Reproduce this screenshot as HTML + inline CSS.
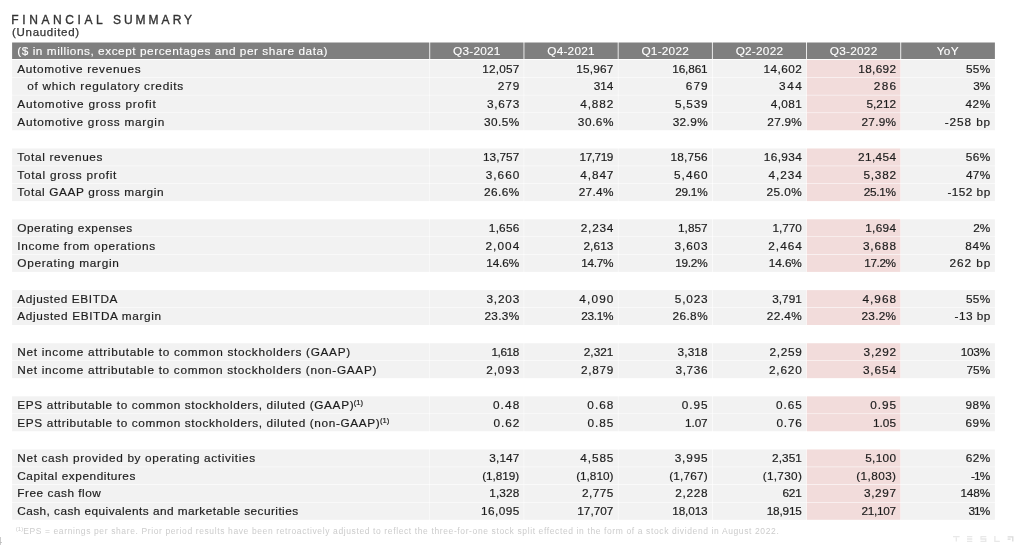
<!DOCTYPE html>
<html><head><meta charset="utf-8"><title>Financial Summary</title>
<style>
html,body{margin:0;padding:0;background:#fff;}
body{width:1024px;height:548px;position:relative;overflow:hidden;font-family:"Liberation Sans",sans-serif;color:#1c1c1c;font-size:11.8px;}
#w{position:absolute;left:0;top:0;width:1024px;height:548px;will-change:transform;}
#bg{position:absolute;left:0;top:0;}
.t{position:absolute;left:11.3px;top:13px;font-size:12px;letter-spacing:3.38px;white-space:nowrap;color:#333333;line-height:14px;-webkit-text-stroke:0.35px #333333;}
.u{position:absolute;left:12px;top:25px;font-size:11.5px;letter-spacing:0.7px;white-space:nowrap;color:#333333;line-height:14px;-webkit-text-stroke:0.25px #333333;}
.r{position:absolute;left:0;width:1024px;}
.c{position:absolute;top:0;height:100%;box-sizing:border-box;white-space:nowrap;}
.l{padding-left:5.2px;letter-spacing:0.66px;}
.i{padding-left:15.2px;}
.n{text-align:right;padding-right:4.7px;letter-spacing:0px;}
.b{letter-spacing:0.45px;}
.d{-webkit-text-stroke:0.18px #1c1c1c;}
.h{color:#fff;-webkit-text-stroke:0.12px #fff;}
.h .n{text-align:center;padding-right:0;letter-spacing:0.24px;}
.h .l{letter-spacing:0.55px;}
sup{font-size:7.6px;line-height:0;vertical-align:baseline;position:relative;top:-3.8px;letter-spacing:0;margin-left:-0.4px;}
.f{position:absolute;left:16.2px;top:525.5px;font-size:8.5px;letter-spacing:0.615px;color:#cccccc;white-space:nowrap;line-height:10px;}
.f sup{font-size:6px;top:-2.5px;}
.pg{position:absolute;left:-4px;top:535px;font-size:11px;color:#bdbdbd;line-height:12px;}
.logo{position:absolute;left:952.7px;top:536.3px;}
</style></head><body><div id="w">
<svg id="bg" width="1024" height="548" viewBox="0 0 1024 548">
<rect x="12.10" y="42.50" width="417.22" height="16.50" fill="#7f7f7f"/>
<rect x="430.18" y="42.50" width="93.35" height="16.50" fill="#7f7f7f"/>
<rect x="524.38" y="42.50" width="93.35" height="16.50" fill="#7f7f7f"/>
<rect x="618.57" y="42.50" width="93.35" height="16.50" fill="#7f7f7f"/>
<rect x="712.77" y="42.50" width="93.35" height="16.50" fill="#7f7f7f"/>
<rect x="806.97" y="42.50" width="93.35" height="16.50" fill="#7f7f7f"/>
<rect x="901.17" y="42.50" width="93.73" height="16.50" fill="#7f7f7f"/>
<rect x="12.10" y="59.95" width="417.40" height="17.20" fill="#f2f2f2"/>
<rect x="430.00" y="59.95" width="93.70" height="17.20" fill="#f2f2f2"/>
<rect x="524.20" y="59.95" width="93.70" height="17.20" fill="#f2f2f2"/>
<rect x="618.40" y="59.95" width="93.70" height="17.20" fill="#f2f2f2"/>
<rect x="712.60" y="59.95" width="93.70" height="17.20" fill="#f2f2f2"/>
<rect x="806.80" y="59.95" width="93.70" height="17.20" fill="#f2dcdb"/>
<rect x="901.00" y="59.95" width="93.90" height="17.20" fill="#f2f2f2"/>
<rect x="12.10" y="77.66" width="417.40" height="17.20" fill="#f2f2f2"/>
<rect x="430.00" y="77.66" width="93.70" height="17.20" fill="#f2f2f2"/>
<rect x="524.20" y="77.66" width="93.70" height="17.20" fill="#f2f2f2"/>
<rect x="618.40" y="77.66" width="93.70" height="17.20" fill="#f2f2f2"/>
<rect x="712.60" y="77.66" width="93.70" height="17.20" fill="#f2f2f2"/>
<rect x="806.80" y="77.66" width="93.70" height="17.20" fill="#f2dcdb"/>
<rect x="901.00" y="77.66" width="93.90" height="17.20" fill="#f2f2f2"/>
<rect x="12.10" y="95.36" width="417.40" height="17.20" fill="#f2f2f2"/>
<rect x="430.00" y="95.36" width="93.70" height="17.20" fill="#f2f2f2"/>
<rect x="524.20" y="95.36" width="93.70" height="17.20" fill="#f2f2f2"/>
<rect x="618.40" y="95.36" width="93.70" height="17.20" fill="#f2f2f2"/>
<rect x="712.60" y="95.36" width="93.70" height="17.20" fill="#f2f2f2"/>
<rect x="806.80" y="95.36" width="93.70" height="17.20" fill="#f2dcdb"/>
<rect x="901.00" y="95.36" width="93.90" height="17.20" fill="#f2f2f2"/>
<rect x="12.10" y="113.07" width="417.40" height="17.20" fill="#f2f2f2"/>
<rect x="430.00" y="113.07" width="93.70" height="17.20" fill="#f2f2f2"/>
<rect x="524.20" y="113.07" width="93.70" height="17.20" fill="#f2f2f2"/>
<rect x="618.40" y="113.07" width="93.70" height="17.20" fill="#f2f2f2"/>
<rect x="712.60" y="113.07" width="93.70" height="17.20" fill="#f2f2f2"/>
<rect x="806.80" y="113.07" width="93.70" height="17.20" fill="#f2dcdb"/>
<rect x="901.00" y="113.07" width="93.90" height="17.20" fill="#f2f2f2"/>
<rect x="12.10" y="148.48" width="417.40" height="17.21" fill="#f2f2f2"/>
<rect x="430.00" y="148.48" width="93.70" height="17.21" fill="#f2f2f2"/>
<rect x="524.20" y="148.48" width="93.70" height="17.21" fill="#f2f2f2"/>
<rect x="618.40" y="148.48" width="93.70" height="17.21" fill="#f2f2f2"/>
<rect x="712.60" y="148.48" width="93.70" height="17.21" fill="#f2f2f2"/>
<rect x="806.80" y="148.48" width="93.70" height="17.21" fill="#f2dcdb"/>
<rect x="901.00" y="148.48" width="93.90" height="17.21" fill="#f2f2f2"/>
<rect x="12.10" y="166.19" width="417.40" height="17.20" fill="#f2f2f2"/>
<rect x="430.00" y="166.19" width="93.70" height="17.20" fill="#f2f2f2"/>
<rect x="524.20" y="166.19" width="93.70" height="17.20" fill="#f2f2f2"/>
<rect x="618.40" y="166.19" width="93.70" height="17.20" fill="#f2f2f2"/>
<rect x="712.60" y="166.19" width="93.70" height="17.20" fill="#f2f2f2"/>
<rect x="806.80" y="166.19" width="93.70" height="17.20" fill="#f2dcdb"/>
<rect x="901.00" y="166.19" width="93.90" height="17.20" fill="#f2f2f2"/>
<rect x="12.10" y="183.89" width="417.40" height="17.20" fill="#f2f2f2"/>
<rect x="430.00" y="183.89" width="93.70" height="17.20" fill="#f2f2f2"/>
<rect x="524.20" y="183.89" width="93.70" height="17.20" fill="#f2f2f2"/>
<rect x="618.40" y="183.89" width="93.70" height="17.20" fill="#f2f2f2"/>
<rect x="712.60" y="183.89" width="93.70" height="17.20" fill="#f2f2f2"/>
<rect x="806.80" y="183.89" width="93.70" height="17.20" fill="#f2dcdb"/>
<rect x="901.00" y="183.89" width="93.90" height="17.20" fill="#f2f2f2"/>
<rect x="12.10" y="219.30" width="417.40" height="17.21" fill="#f2f2f2"/>
<rect x="430.00" y="219.30" width="93.70" height="17.21" fill="#f2f2f2"/>
<rect x="524.20" y="219.30" width="93.70" height="17.21" fill="#f2f2f2"/>
<rect x="618.40" y="219.30" width="93.70" height="17.21" fill="#f2f2f2"/>
<rect x="712.60" y="219.30" width="93.70" height="17.21" fill="#f2f2f2"/>
<rect x="806.80" y="219.30" width="93.70" height="17.21" fill="#f2dcdb"/>
<rect x="901.00" y="219.30" width="93.90" height="17.21" fill="#f2f2f2"/>
<rect x="12.10" y="237.00" width="417.40" height="17.20" fill="#f2f2f2"/>
<rect x="430.00" y="237.00" width="93.70" height="17.20" fill="#f2f2f2"/>
<rect x="524.20" y="237.00" width="93.70" height="17.20" fill="#f2f2f2"/>
<rect x="618.40" y="237.00" width="93.70" height="17.20" fill="#f2f2f2"/>
<rect x="712.60" y="237.00" width="93.70" height="17.20" fill="#f2f2f2"/>
<rect x="806.80" y="237.00" width="93.70" height="17.20" fill="#f2dcdb"/>
<rect x="901.00" y="237.00" width="93.90" height="17.20" fill="#f2f2f2"/>
<rect x="12.10" y="254.71" width="417.40" height="17.20" fill="#f2f2f2"/>
<rect x="430.00" y="254.71" width="93.70" height="17.20" fill="#f2f2f2"/>
<rect x="524.20" y="254.71" width="93.70" height="17.20" fill="#f2f2f2"/>
<rect x="618.40" y="254.71" width="93.70" height="17.20" fill="#f2f2f2"/>
<rect x="712.60" y="254.71" width="93.70" height="17.20" fill="#f2f2f2"/>
<rect x="806.80" y="254.71" width="93.70" height="17.20" fill="#f2dcdb"/>
<rect x="901.00" y="254.71" width="93.90" height="17.20" fill="#f2f2f2"/>
<rect x="12.10" y="290.12" width="417.40" height="17.20" fill="#f2f2f2"/>
<rect x="430.00" y="290.12" width="93.70" height="17.20" fill="#f2f2f2"/>
<rect x="524.20" y="290.12" width="93.70" height="17.20" fill="#f2f2f2"/>
<rect x="618.40" y="290.12" width="93.70" height="17.20" fill="#f2f2f2"/>
<rect x="712.60" y="290.12" width="93.70" height="17.20" fill="#f2f2f2"/>
<rect x="806.80" y="290.12" width="93.70" height="17.20" fill="#f2dcdb"/>
<rect x="901.00" y="290.12" width="93.90" height="17.20" fill="#f2f2f2"/>
<rect x="12.10" y="307.82" width="417.40" height="17.20" fill="#f2f2f2"/>
<rect x="430.00" y="307.82" width="93.70" height="17.20" fill="#f2f2f2"/>
<rect x="524.20" y="307.82" width="93.70" height="17.20" fill="#f2f2f2"/>
<rect x="618.40" y="307.82" width="93.70" height="17.20" fill="#f2f2f2"/>
<rect x="712.60" y="307.82" width="93.70" height="17.20" fill="#f2f2f2"/>
<rect x="806.80" y="307.82" width="93.70" height="17.20" fill="#f2dcdb"/>
<rect x="901.00" y="307.82" width="93.90" height="17.20" fill="#f2f2f2"/>
<rect x="12.10" y="343.23" width="417.40" height="17.20" fill="#f2f2f2"/>
<rect x="430.00" y="343.23" width="93.70" height="17.20" fill="#f2f2f2"/>
<rect x="524.20" y="343.23" width="93.70" height="17.20" fill="#f2f2f2"/>
<rect x="618.40" y="343.23" width="93.70" height="17.20" fill="#f2f2f2"/>
<rect x="712.60" y="343.23" width="93.70" height="17.20" fill="#f2f2f2"/>
<rect x="806.80" y="343.23" width="93.70" height="17.20" fill="#f2dcdb"/>
<rect x="901.00" y="343.23" width="93.90" height="17.20" fill="#f2f2f2"/>
<rect x="12.10" y="360.94" width="417.40" height="17.21" fill="#f2f2f2"/>
<rect x="430.00" y="360.94" width="93.70" height="17.21" fill="#f2f2f2"/>
<rect x="524.20" y="360.94" width="93.70" height="17.21" fill="#f2f2f2"/>
<rect x="618.40" y="360.94" width="93.70" height="17.21" fill="#f2f2f2"/>
<rect x="712.60" y="360.94" width="93.70" height="17.21" fill="#f2f2f2"/>
<rect x="806.80" y="360.94" width="93.70" height="17.21" fill="#f2dcdb"/>
<rect x="901.00" y="360.94" width="93.90" height="17.21" fill="#f2f2f2"/>
<rect x="12.10" y="396.35" width="417.40" height="17.20" fill="#f2f2f2"/>
<rect x="430.00" y="396.35" width="93.70" height="17.20" fill="#f2f2f2"/>
<rect x="524.20" y="396.35" width="93.70" height="17.20" fill="#f2f2f2"/>
<rect x="618.40" y="396.35" width="93.70" height="17.20" fill="#f2f2f2"/>
<rect x="712.60" y="396.35" width="93.70" height="17.20" fill="#f2f2f2"/>
<rect x="806.80" y="396.35" width="93.70" height="17.20" fill="#f2dcdb"/>
<rect x="901.00" y="396.35" width="93.90" height="17.20" fill="#f2f2f2"/>
<rect x="12.10" y="414.05" width="417.40" height="17.21" fill="#f2f2f2"/>
<rect x="430.00" y="414.05" width="93.70" height="17.21" fill="#f2f2f2"/>
<rect x="524.20" y="414.05" width="93.70" height="17.21" fill="#f2f2f2"/>
<rect x="618.40" y="414.05" width="93.70" height="17.21" fill="#f2f2f2"/>
<rect x="712.60" y="414.05" width="93.70" height="17.21" fill="#f2f2f2"/>
<rect x="806.80" y="414.05" width="93.70" height="17.21" fill="#f2dcdb"/>
<rect x="901.00" y="414.05" width="93.90" height="17.21" fill="#f2f2f2"/>
<rect x="12.10" y="449.46" width="417.40" height="17.20" fill="#f2f2f2"/>
<rect x="430.00" y="449.46" width="93.70" height="17.20" fill="#f2f2f2"/>
<rect x="524.20" y="449.46" width="93.70" height="17.20" fill="#f2f2f2"/>
<rect x="618.40" y="449.46" width="93.70" height="17.20" fill="#f2f2f2"/>
<rect x="712.60" y="449.46" width="93.70" height="17.20" fill="#f2f2f2"/>
<rect x="806.80" y="449.46" width="93.70" height="17.20" fill="#f2dcdb"/>
<rect x="901.00" y="449.46" width="93.90" height="17.20" fill="#f2f2f2"/>
<rect x="12.10" y="467.17" width="417.40" height="17.20" fill="#f2f2f2"/>
<rect x="430.00" y="467.17" width="93.70" height="17.20" fill="#f2f2f2"/>
<rect x="524.20" y="467.17" width="93.70" height="17.20" fill="#f2f2f2"/>
<rect x="618.40" y="467.17" width="93.70" height="17.20" fill="#f2f2f2"/>
<rect x="712.60" y="467.17" width="93.70" height="17.20" fill="#f2f2f2"/>
<rect x="806.80" y="467.17" width="93.70" height="17.20" fill="#f2dcdb"/>
<rect x="901.00" y="467.17" width="93.90" height="17.20" fill="#f2f2f2"/>
<rect x="12.10" y="484.87" width="417.40" height="17.20" fill="#f2f2f2"/>
<rect x="430.00" y="484.87" width="93.70" height="17.20" fill="#f2f2f2"/>
<rect x="524.20" y="484.87" width="93.70" height="17.20" fill="#f2f2f2"/>
<rect x="618.40" y="484.87" width="93.70" height="17.20" fill="#f2f2f2"/>
<rect x="712.60" y="484.87" width="93.70" height="17.20" fill="#f2f2f2"/>
<rect x="806.80" y="484.87" width="93.70" height="17.20" fill="#f2dcdb"/>
<rect x="901.00" y="484.87" width="93.90" height="17.20" fill="#f2f2f2"/>
<rect x="12.10" y="502.58" width="417.40" height="17.21" fill="#f2f2f2"/>
<rect x="430.00" y="502.58" width="93.70" height="17.21" fill="#f2f2f2"/>
<rect x="524.20" y="502.58" width="93.70" height="17.21" fill="#f2f2f2"/>
<rect x="618.40" y="502.58" width="93.70" height="17.21" fill="#f2f2f2"/>
<rect x="712.60" y="502.58" width="93.70" height="17.21" fill="#f2f2f2"/>
<rect x="806.80" y="502.58" width="93.70" height="17.21" fill="#f2dcdb"/>
<rect x="901.00" y="502.58" width="93.90" height="17.21" fill="#f2f2f2"/>
</svg>
<div class="t"><span style="letter-spacing:3.6px">FINANCIAL </span><span style="letter-spacing:3.02px">SUMMARY</span></div>
<div class="u">(Unaudited)</div>
<div class="r h" style="top:42.60px;height:17.70px;line-height:17.70px"><div class="c l" style="left:12.10px;width:417.65px;letter-spacing:0.545px">($ in millions, except percentages and per share data)</div><div class="c n" style="left:429.75px;width:94.20px">Q3-2021</div><div class="c n" style="left:523.95px;width:94.20px">Q4-2021</div><div class="c n" style="left:618.15px;width:94.20px">Q1-2022</div><div class="c n" style="left:712.35px;width:94.20px">Q2-2022</div><div class="c n" style="left:806.55px;width:94.20px">Q3-2022</div><div class="c n" style="left:900.75px;width:94.15px">YoY</div></div>
<div class="r d" style="top:60.55px;height:17.70px;line-height:17.70px"><div class="c l" style="left:12.10px;width:417.65px;letter-spacing:0.693px">Automotive revenues</div><div class="c n" style="left:429.75px;width:94.20px;letter-spacing:0.195px;padding-right:4.505px">12,057</div><div class="c n" style="left:523.95px;width:94.20px;letter-spacing:0.219px;padding-right:4.481px">15,967</div><div class="c n" style="left:618.15px;width:94.20px;letter-spacing:-0.146px;padding-right:4.846px">16,861</div><div class="c n" style="left:712.35px;width:94.20px;letter-spacing:0.438px;padding-right:4.262px">14,602</div><div class="c n" style="left:806.55px;width:94.20px;letter-spacing:0.340px;padding-right:4.360px">18,692</div><div class="c n" style="left:900.75px;width:94.15px;letter-spacing:0.344px;padding-right:4.356px">55%</div></div>
<div class="r d" style="top:78.26px;height:17.70px;line-height:17.70px"><div class="c l i" style="left:12.10px;width:417.65px;letter-spacing:0.725px">of which regulatory credits</div><div class="c n" style="left:429.75px;width:94.20px;letter-spacing:0.912px;padding-right:3.788px">279</div><div class="c n" style="left:523.95px;width:94.20px;letter-spacing:0.061px;padding-right:4.639px">314</div><div class="c n" style="left:618.15px;width:94.20px;letter-spacing:1.094px;padding-right:3.606px">679</div><div class="c n" style="left:712.35px;width:94.20px;letter-spacing:1.580px;padding-right:3.120px">344</div><div class="c n" style="left:806.55px;width:94.20px;letter-spacing:1.276px;padding-right:3.424px">286</div><div class="c n" style="left:900.75px;width:94.15px;letter-spacing:-0.041px;padding-right:4.741px">3%</div></div>
<div class="r d" style="top:95.96px;height:17.70px;line-height:17.70px"><div class="c l" style="left:12.10px;width:417.65px;letter-spacing:0.811px">Automotive gross profit</div><div class="c n" style="left:429.75px;width:94.20px;letter-spacing:0.668px;padding-right:4.032px">3,673</div><div class="c n" style="left:523.95px;width:94.20px;letter-spacing:0.942px;padding-right:3.758px">4,882</div><div class="c n" style="left:618.15px;width:94.20px;letter-spacing:0.790px;padding-right:3.910px">5,539</div><div class="c n" style="left:712.35px;width:94.20px;letter-spacing:0.395px;padding-right:4.305px">4,081</div><div class="c n" style="left:806.55px;width:94.20px;letter-spacing:0.031px;padding-right:4.669px">5,212</div><div class="c n" style="left:900.75px;width:94.15px;letter-spacing:0.526px;padding-right:4.174px">42%</div></div>
<div class="r d" style="top:113.67px;height:17.70px;line-height:17.70px"><div class="c l" style="left:12.10px;width:417.65px;letter-spacing:0.751px">Automotive gross margin</div><div class="c n" style="left:429.75px;width:94.20px;letter-spacing:0.476px;padding-right:4.224px">30.5%</div><div class="c n" style="left:523.95px;width:94.20px;letter-spacing:0.537px;padding-right:4.163px">30.6%</div><div class="c n" style="left:618.15px;width:94.20px;letter-spacing:0.385px;padding-right:4.315px">32.9%</div><div class="c n" style="left:712.35px;width:94.20px;letter-spacing:0.263px;padding-right:4.437px">27.9%</div><div class="c n" style="left:806.55px;width:94.20px;letter-spacing:0.263px;padding-right:4.437px">27.9%</div><div class="c n" style="left:900.75px;width:94.15px;letter-spacing:0.925px;padding-right:3.775px">-258 bp</div></div>
<div class="r d" style="top:149.08px;height:17.70px;line-height:17.70px"><div class="c l" style="left:12.10px;width:417.65px;letter-spacing:0.651px">Total revenues</div><div class="c n" style="left:429.75px;width:94.20px;letter-spacing:0.025px;padding-right:4.675px">13,757</div><div class="c n" style="left:523.95px;width:94.20px;letter-spacing:-0.437px;padding-right:5.137px">17,719</div><div class="c n" style="left:618.15px;width:94.20px;letter-spacing:0.219px;padding-right:4.481px">18,756</div><div class="c n" style="left:712.35px;width:94.20px;letter-spacing:0.413px;padding-right:4.287px">16,934</div><div class="c n" style="left:806.55px;width:94.20px;letter-spacing:0.389px;padding-right:4.311px">21,454</div><div class="c n" style="left:900.75px;width:94.15px;letter-spacing:0.466px;padding-right:4.234px">56%</div></div>
<div class="r d" style="top:166.78px;height:17.70px;line-height:17.70px"><div class="c l" style="left:12.10px;width:417.65px;letter-spacing:0.738px">Total gross profit</div><div class="c n" style="left:429.75px;width:94.20px;letter-spacing:0.972px;padding-right:3.728px">3,660</div><div class="c n" style="left:523.95px;width:94.20px;letter-spacing:0.911px;padding-right:3.789px">4,847</div><div class="c n" style="left:618.15px;width:94.20px;letter-spacing:1.033px;padding-right:3.667px">5,460</div><div class="c n" style="left:712.35px;width:94.20px;letter-spacing:0.942px;padding-right:3.758px">4,234</div><div class="c n" style="left:806.55px;width:94.20px;letter-spacing:0.760px;padding-right:3.940px">5,382</div><div class="c n" style="left:900.75px;width:94.15px;letter-spacing:0.344px;padding-right:4.356px">47%</div></div>
<div class="r d" style="top:184.49px;height:17.70px;line-height:17.70px"><div class="c l" style="left:12.10px;width:417.65px;letter-spacing:0.635px">Total GAAP gross margin</div><div class="c n" style="left:429.75px;width:94.20px;letter-spacing:0.445px;padding-right:4.255px">26.6%</div><div class="c n" style="left:523.95px;width:94.20px;letter-spacing:0.324px;padding-right:4.376px">27.4%</div><div class="c n" style="left:618.15px;width:94.20px;letter-spacing:-0.253px;padding-right:4.953px">29.1%</div><div class="c n" style="left:712.35px;width:94.20px;letter-spacing:0.445px;padding-right:4.255px">25.0%</div><div class="c n" style="left:806.55px;width:94.20px;letter-spacing:-0.314px;padding-right:5.014px">25.1%</div><div class="c n" style="left:900.75px;width:94.15px;letter-spacing:0.459px;padding-right:4.241px">-152 bp</div></div>
<div class="r d" style="top:219.90px;height:17.70px;line-height:17.70px"><div class="c l" style="left:12.10px;width:417.65px;letter-spacing:0.542px">Operating expenses</div><div class="c n" style="left:429.75px;width:94.20px;letter-spacing:0.213px;padding-right:4.487px">1,656</div><div class="c n" style="left:523.95px;width:94.20px;letter-spacing:0.790px;padding-right:3.910px">2,234</div><div class="c n" style="left:618.15px;width:94.20px;letter-spacing:0.031px;padding-right:4.669px">1,857</div><div class="c n" style="left:712.35px;width:94.20px;letter-spacing:-0.030px;padding-right:4.730px">1,770</div><div class="c n" style="left:806.55px;width:94.20px;letter-spacing:0.334px;padding-right:4.366px">1,694</div><div class="c n" style="left:900.75px;width:94.15px;letter-spacing:-0.162px;padding-right:4.862px">2%</div></div>
<div class="r d" style="top:237.60px;height:17.70px;line-height:17.70px"><div class="c l" style="left:12.10px;width:417.65px;letter-spacing:0.660px">Income from operations</div><div class="c n" style="left:429.75px;width:94.20px;letter-spacing:1.063px;padding-right:3.637px">2,004</div><div class="c n" style="left:523.95px;width:94.20px;letter-spacing:0.122px;padding-right:4.578px">2,613</div><div class="c n" style="left:618.15px;width:94.20px;letter-spacing:0.911px;padding-right:3.789px">3,603</div><div class="c n" style="left:712.35px;width:94.20px;letter-spacing:1.003px;padding-right:3.697px">2,464</div><div class="c n" style="left:806.55px;width:94.20px;letter-spacing:0.911px;padding-right:3.789px">3,688</div><div class="c n" style="left:900.75px;width:94.15px;letter-spacing:0.709px;padding-right:3.991px">84%</div></div>
<div class="r d" style="top:255.31px;height:17.70px;line-height:17.70px"><div class="c l" style="left:12.10px;width:417.65px;letter-spacing:0.690px">Operating margin</div><div class="c n" style="left:429.75px;width:94.20px;letter-spacing:-0.101px;padding-right:4.801px">14.6%</div><div class="c n" style="left:523.95px;width:94.20px;letter-spacing:-0.284px;padding-right:4.984px">14.7%</div><div class="c n" style="left:618.15px;width:94.20px;letter-spacing:-0.253px;padding-right:4.953px">19.2%</div><div class="c n" style="left:712.35px;width:94.20px;letter-spacing:-0.101px;padding-right:4.801px">14.6%</div><div class="c n" style="left:806.55px;width:94.20px;letter-spacing:-0.435px;padding-right:5.135px">17.2%</div><div class="c n" style="left:900.75px;width:94.15px;letter-spacing:0.899px;padding-right:3.801px">262 bp</div></div>
<div class="r d" style="top:290.72px;height:17.70px;line-height:17.70px"><div class="c l" style="left:12.10px;width:417.65px;letter-spacing:0.600px">Adjusted EBITDA</div><div class="c n" style="left:429.75px;width:94.20px;letter-spacing:0.820px;padding-right:3.880px">3,203</div><div class="c n" style="left:523.95px;width:94.20px;letter-spacing:1.154px;padding-right:3.546px">4,090</div><div class="c n" style="left:618.15px;width:94.20px;letter-spacing:0.820px;padding-right:3.880px">5,023</div><div class="c n" style="left:712.35px;width:94.20px;letter-spacing:0.031px;padding-right:4.669px">3,791</div><div class="c n" style="left:806.55px;width:94.20px;letter-spacing:1.033px;padding-right:3.667px">4,968</div><div class="c n" style="left:900.75px;width:94.15px;letter-spacing:0.344px;padding-right:4.356px">55%</div></div>
<div class="r d" style="top:308.43px;height:17.70px;line-height:17.70px"><div class="c l" style="left:12.10px;width:417.65px;letter-spacing:0.634px">Adjusted EBITDA margin</div><div class="c n" style="left:429.75px;width:94.20px;letter-spacing:0.324px;padding-right:4.376px">23.3%</div><div class="c n" style="left:523.95px;width:94.20px;letter-spacing:-0.314px;padding-right:5.014px">23.1%</div><div class="c n" style="left:618.15px;width:94.20px;letter-spacing:0.445px;padding-right:4.255px">26.8%</div><div class="c n" style="left:712.35px;width:94.20px;letter-spacing:0.415px;padding-right:4.285px">22.4%</div><div class="c n" style="left:806.55px;width:94.20px;letter-spacing:0.294px;padding-right:4.406px">23.2%</div><div class="c n" style="left:900.75px;width:94.15px;letter-spacing:0.429px;padding-right:4.271px">-13 bp</div></div>
<div class="r d" style="top:343.83px;height:17.70px;line-height:17.70px"><div class="c l" style="left:12.10px;width:417.65px;letter-spacing:0.703px">Net income attributable to common stockholders (GAAP)</div><div class="c n" style="left:429.75px;width:94.20px;letter-spacing:-0.425px;padding-right:5.125px">1,618</div><div class="c n" style="left:523.95px;width:94.20px;letter-spacing:0.031px;padding-right:4.669px">2,321</div><div class="c n" style="left:618.15px;width:94.20px;letter-spacing:0.152px;padding-right:4.548px">3,318</div><div class="c n" style="left:712.35px;width:94.20px;letter-spacing:0.729px;padding-right:3.971px">2,259</div><div class="c n" style="left:806.55px;width:94.20px;letter-spacing:0.729px;padding-right:3.971px">3,292</div><div class="c n" style="left:900.75px;width:94.15px;letter-spacing:-0.216px;padding-right:4.916px">103%</div></div>
<div class="r d" style="top:361.54px;height:17.70px;line-height:17.70px"><div class="c l" style="left:12.10px;width:417.65px;letter-spacing:0.699px">Net income attributable to common stockholders (non-GAAP)</div><div class="c n" style="left:429.75px;width:94.20px;letter-spacing:0.881px;padding-right:3.819px">2,093</div><div class="c n" style="left:523.95px;width:94.20px;letter-spacing:0.699px;padding-right:4.001px">2,879</div><div class="c n" style="left:618.15px;width:94.20px;letter-spacing:0.668px;padding-right:4.032px">3,736</div><div class="c n" style="left:712.35px;width:94.20px;letter-spacing:0.851px;padding-right:3.849px">2,620</div><div class="c n" style="left:806.55px;width:94.20px;letter-spacing:0.911px;padding-right:3.789px">3,654</div><div class="c n" style="left:900.75px;width:94.15px;letter-spacing:0.101px;padding-right:4.599px">75%</div></div>
<div class="r d" style="top:396.95px;height:17.70px;line-height:17.70px"><div class="c l" style="left:12.10px;width:417.65px;letter-spacing:0.642px">EPS attributable to common stockholders, diluted (GAAP)<sup>(1)</sup></div><div class="c n" style="left:429.75px;width:94.20px;letter-spacing:1.134px;padding-right:3.566px">0.48</div><div class="c n" style="left:523.95px;width:94.20px;letter-spacing:1.053px;padding-right:3.647px">0.68</div><div class="c n" style="left:618.15px;width:94.20px;letter-spacing:0.972px;padding-right:3.728px">0.95</div><div class="c n" style="left:712.35px;width:94.20px;letter-spacing:0.972px;padding-right:3.728px">0.65</div><div class="c n" style="left:806.55px;width:94.20px;letter-spacing:0.972px;padding-right:3.728px">0.95</div><div class="c n" style="left:900.75px;width:94.15px;letter-spacing:0.587px;padding-right:4.113px">98%</div></div>
<div class="r d" style="top:414.65px;height:17.70px;line-height:17.70px"><div class="c l" style="left:12.10px;width:417.65px;letter-spacing:0.643px">EPS attributable to common stockholders, diluted (non-GAAP)<sup>(1)</sup></div><div class="c n" style="left:429.75px;width:94.20px;letter-spacing:0.932px;padding-right:3.768px">0.62</div><div class="c n" style="left:523.95px;width:94.20px;letter-spacing:0.972px;padding-right:3.728px">0.85</div><div class="c n" style="left:618.15px;width:94.20px;letter-spacing:-0.121px;padding-right:4.821px">1.07</div><div class="c n" style="left:712.35px;width:94.20px;letter-spacing:0.810px;padding-right:3.890px">0.76</div><div class="c n" style="left:806.55px;width:94.20px;letter-spacing:0.041px;padding-right:4.659px">1.05</div><div class="c n" style="left:900.75px;width:94.15px;letter-spacing:0.587px;padding-right:4.113px">69%</div></div>
<div class="r d" style="top:450.06px;height:17.70px;line-height:17.70px"><div class="c l" style="left:12.10px;width:417.65px;letter-spacing:0.652px">Net cash provided by operating activities</div><div class="c n" style="left:429.75px;width:94.20px;letter-spacing:0.091px;padding-right:4.609px">3,147</div><div class="c n" style="left:523.95px;width:94.20px;letter-spacing:0.911px;padding-right:3.789px">4,585</div><div class="c n" style="left:618.15px;width:94.20px;letter-spacing:0.851px;padding-right:3.849px">3,995</div><div class="c n" style="left:712.35px;width:94.20px;letter-spacing:0.061px;padding-right:4.639px">2,351</div><div class="c n" style="left:806.55px;width:94.20px;letter-spacing:0.334px;padding-right:4.366px">5,100</div><div class="c n" style="left:900.75px;width:94.15px;letter-spacing:0.405px;padding-right:4.295px">62%</div></div>
<div class="r d" style="top:467.77px;height:17.70px;line-height:17.70px"><div class="c l" style="left:12.10px;width:417.65px;letter-spacing:0.555px">Capital expenditures</div><div class="c n" style="left:429.75px;width:94.20px;letter-spacing:-0.054px;padding-right:4.754px">(1,819)</div><div class="c n" style="left:523.95px;width:94.20px;letter-spacing:-0.014px;padding-right:4.714px">(1,810)</div><div class="c n" style="left:618.15px;width:94.20px;letter-spacing:0.169px;padding-right:4.531px">(1,767)</div><div class="c n" style="left:712.35px;width:94.20px;letter-spacing:0.290px;padding-right:4.410px">(1,730)</div><div class="c n" style="left:806.55px;width:94.20px;letter-spacing:0.412px;padding-right:4.288px">(1,803)</div><div class="c n" style="left:900.75px;width:94.15px;letter-spacing:-0.831px;padding-right:5.531px">-1%</div></div>
<div class="r d" style="top:485.47px;height:17.70px;line-height:17.70px"><div class="c l" style="left:12.10px;width:417.65px;letter-spacing:0.529px">Free cash flow</div><div class="c n" style="left:429.75px;width:94.20px;letter-spacing:0.122px;padding-right:4.578px">1,328</div><div class="c n" style="left:523.95px;width:94.20px;letter-spacing:0.456px;padding-right:4.244px">2,775</div><div class="c n" style="left:618.15px;width:94.20px;letter-spacing:0.699px;padding-right:4.001px">2,228</div><div class="c n" style="left:712.35px;width:94.20px;letter-spacing:-0.121px;padding-right:4.821px">621</div><div class="c n" style="left:806.55px;width:94.20px;letter-spacing:0.638px;padding-right:4.062px">3,297</div><div class="c n" style="left:900.75px;width:94.15px;letter-spacing:-0.135px;padding-right:4.835px">148%</div></div>
<div class="r d" style="top:503.18px;height:17.70px;line-height:17.70px"><div class="c l" style="left:12.10px;width:417.65px;letter-spacing:0.450px">Cash, cash equivalents and marketable securities</div><div class="c n" style="left:429.75px;width:94.20px;letter-spacing:0.413px;padding-right:4.287px">16,095</div><div class="c n" style="left:523.95px;width:94.20px;letter-spacing:0.025px;padding-right:4.675px">17,707</div><div class="c n" style="left:618.15px;width:94.20px;letter-spacing:-0.146px;padding-right:4.846px">18,013</div><div class="c n" style="left:712.35px;width:94.20px;letter-spacing:-0.194px;padding-right:4.894px">18,915</div><div class="c n" style="left:806.55px;width:94.20px;letter-spacing:-0.316px;padding-right:5.016px">21,107</div><div class="c n" style="left:900.75px;width:94.15px;letter-spacing:-0.932px;padding-right:5.632px">31%</div></div>
<div class="f"><sup>(1)</sup>EPS = earnings per share. Prior period results have been retroactively adjusted to reflect the three-for-one stock split effected in the form of a stock dividend in August 2022.</div>
<div class="pg">4</div>
<svg class="logo" width="62" height="7" viewBox="0 0 62 7" fill="none" stroke="#e8e8e8" stroke-width="1.3">
<path d="M0 0.6H6.6M3.3 1.4V5.5"/>
<path d="M14 0.6H19.3M14 3H19.3M14 5.3H19.3"/>
<path d="M27.5 0.6H33.3M28 0.6V3H32.8V5.3H27.5"/>
<path d="M41.9 0V5.3H46.8"/>
<path stroke="#dadada" d="M54.6 0.9H59.8V5.6M54.6 3.2H57.6"/>
</svg>
</div></body></html>
